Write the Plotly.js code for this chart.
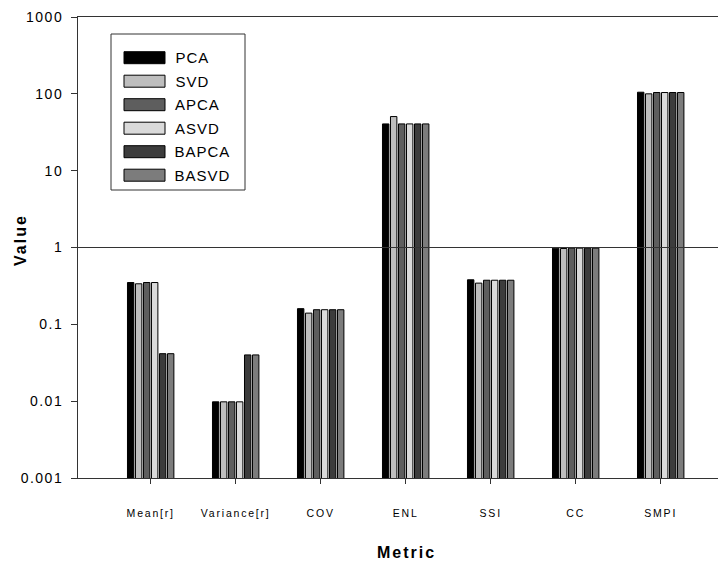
<!DOCTYPE html>
<html>
<head>
<meta charset="utf-8">
<script src="https://cdn.plot.ly/plotly-3.0.1.min.js"></script>
<style>
html,body{margin:0;padding:0;background:#fff;}
#chart{width:722px;height:570px;}
#chart .xtick text{letter-spacing:1.8px;}
#chart .ytick text{letter-spacing:1.5px;}
#chart .annotation-text{letter-spacing:1px;}
#chart .ann-wide .annotation-text{letter-spacing:2px;}
</style>
</head>
<body>
<div id="chart"></div>
<script>
// ---- data ----
var metrics = ["Mean[r]", "Variance[r]", "COV", "ENL", "SSI", "CC", "SMPI"];
var seriesNames = ["PCA", "SVD", "APCA", "ASVD", "BAPCA", "BASVD"];
var PCA   = [0.35,  0.0098, 0.16,  40.6, 0.38,  0.98, 105];
var SVD   = [0.337, 0.0098, 0.14,  50.6, 0.344, 0.97, 100];
var APCA  = [0.35,  0.0098, 0.155, 40.6, 0.375, 0.98, 104];
var ASVD  = [0.35,  0.0098, 0.155, 40.6, 0.375, 0.98, 104];
var BAPCA = [0.0415, 0.040, 0.155, 40.6, 0.375, 0.98, 104];
var BASVD = [0.0415, 0.040, 0.155, 40.6, 0.375, 0.98, 104];
var yTickVals = [0.001, 0.01, 0.1, 1, 10, 100, 1000];
var yTickText = ["0.001", "0.01", "0.1", "1", "10", "100", "1000"];

// ---- styles ----
var seriesValues = [PCA, SVD, APCA, ASVD, BAPCA, BASVD];
var colors = ["#000000", "#bebebe", "#5e5e5e", "#dadada", "#3c3c3c", "#7c7c7c"];
var FONT = "Liberation Sans, Arial, sans-serif";

var traces = seriesNames.map(function (name, i) {
  return {
    type: "bar",
    name: name,
    x: metrics,
    y: seriesValues[i],
    marker: { color: colors[i], line: { color: "#000000", width: 1 } },
    showlegend: false,
    hoverinfo: "x+y+name"
  };
});

// plot area geometry (pixels) for custom legend
var L = 78, R = 4, T = 17, B = 92, W = 722, H = 570;
var pw = W - L - R, ph = H - T - B;
function px(x) { return (x - L) / pw; }
function py(y) { return (H - B - y) / ph; }

var shapes = [
  // reference line at value 1
  { type: "line", xref: "paper", yref: "y", x0: 0, x1: 1, y0: 1, y1: 1,
    line: { color: "#333333", width: 1 }, layer: "above" },
  // legend box
  { type: "rect", xref: "paper", yref: "paper",
    x0: px(111), x1: px(245), y0: py(34), y1: py(190),
    line: { color: "#333333", width: 1 }, fillcolor: "rgba(255,255,255,1)", layer: "above" }
];
var annotations = [];
seriesNames.forEach(function (name, i) {
  var cy = 57.7 + 23.5 * i;
  shapes.push({ type: "rect", xref: "paper", yref: "paper",
    x0: px(124), x1: px(165), y0: py(cy + 6), y1: py(cy - 6),
    line: { color: "#000000", width: 1 }, fillcolor: colors[i], layer: "above" });
  annotations.push({ xref: "paper", yref: "paper", x: px(175), y: py(cy),
    xanchor: "left", yanchor: "middle", showarrow: false, text: name,
    font: { family: FONT, size: 15, color: "#000" } });
});
// axis titles
annotations.push({ xref: "paper", yref: "paper", x: px(21), y: py(240),
  xanchor: "center", yanchor: "middle", showarrow: false, text: "<b>Value</b>",
  textangle: -90, font: { family: FONT, size: 16, color: "#000" }, name: "ytitle" });
annotations.push({ xref: "paper", yref: "paper", x: px(406), y: py(552),
  xanchor: "center", yanchor: "middle", showarrow: false, text: "<b>Metric</b>",
  font: { family: FONT, size: 16, color: "#000" }, name: "xtitle" });

var layout = {
  width: W, height: H,
  margin: { l: L, r: R, t: T, b: B, pad: 0 },
  paper_bgcolor: "#ffffff", plot_bgcolor: "#ffffff",
  barmode: "group", bargap: 0.435, bargroupgap: 0.2,
  font: { family: FONT, color: "#000" },
  xaxis: {
    type: "category", range: [-0.855, 6.674],
    showline: true, linecolor: "#333333", linewidth: 1, mirror: true,
    ticks: "outside", ticklen: 5, tickcolor: "#333333",
    ticklabelstandoff: 20,
    tickfont: { family: FONT, size: 10.5, color: "#000" },
    showgrid: false, zeroline: false, fixedrange: true
  },
  yaxis: {
    type: "log", range: [-3, 3],
    tickmode: "array", tickvals: yTickVals, ticktext: yTickText,
    showline: true, linecolor: "#333333", linewidth: 1,
    ticks: "outside", ticklen: 6, tickcolor: "#333333",
    ticklabelstandoff: 5,
    tickfont: { family: FONT, size: 14, color: "#000" },
    showgrid: false, zeroline: false, fixedrange: true
  },
  shapes: shapes,
  annotations: annotations,
  showlegend: false
};

Plotly.newPlot("chart", traces, layout, { displayModeBar: false, staticPlot: true }).then(function () {
  var anns = document.querySelectorAll("#chart .annotation");
  anns.forEach(function (g, idx) {
    if (idx >= seriesNames.length) g.classList.add("ann-wide");
  });
});
</script>
</body>
</html>
